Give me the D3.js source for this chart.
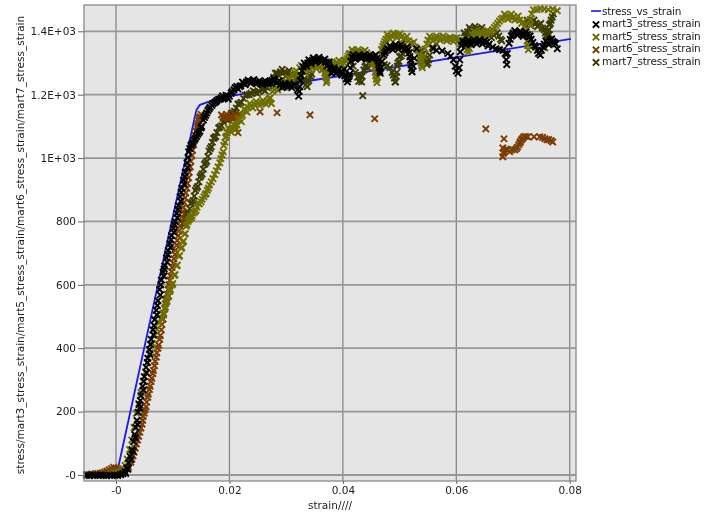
<!DOCTYPE html>
<html>
    <head>
        <meta charset="utf-8">
        <title></title>
        <style>
            body { margin: 0; background: #fff; }
            svg { display: block; filter: blur(0.45px); }
            text { font-family: "DejaVu Sans", sans-serif; font-size: 10.5px; fill: #222; }
            .axis path { display: none; }
            .axis line { stroke: #666; }
            .grid .v { stroke: #868686; stroke-width: 1.3; }
            .grid .h { stroke: #979797; stroke-width: 1.8; }
            .legend text { letter-spacing: -0.25px; }
            .cross { fill: none; stroke-width: 1.9; }
        </style>
    </head>
    <body>
        <svg width="704" height="513"></svg>

        <script src="https://d3js.org/d3.v7.min.js"></script>
        <script>
            var xTicks = [0, 0.02, 0.04, 0.06, 0.08];
            var xTickLabels = ["-0", "0.02", "0.04", "0.06", "0.08"];
            var yTicks = [0, 200, 400, 600, 800, 1000, 1200, 1400];
            var yTickLabels = ["-0", "200", "400", "600", "800", "1E+03", "1.2E+03", "1.4E+03"];

            var seriesNames = ["stress_vs_strain", "mart3_stress_strain", "mart5_stress_strain", "mart6_stress_strain", "mart7_stress_strain"];
            var seriesColors = ["#1a1aee", "#000000", "#6e6e00", "#7a3c00", "#3c3c00"];

            // [strain, stress]
            var stressVsStrain = [[0.0001,0],[0.0026,205],[0.0095,773],[0.0127,1032],[0.0139,1130],[0.0142,1152],[0.0148,1168],[0.0178,1187],[0.0342,1244],[0.0802,1376]];

            var mart3 = [[-0.0052,-1],[-0.0047,-2],[-0.0042,0],[-0.0037,-1],[-0.0032,-1],[-0.0027,0],[-0.0022,-1],[-0.0017,-2],[-0.0012,0],[-0.0007,-1],[-0.0002,-1],[0.0003,-1],[0.0008,1],[0.0012,4],[0.0016,10],[0.0019,22],[0.0022,38],[0.0025,58],[0.0028,80],[0.0031,105],[0.0033,128],[0.0035,150],[0.0037,172],[0.0039,198],[0.0041,222],[0.0044,250],[0.0047,280],[0.005,310],[0.0053,340],[0.0056,368],[0.0059,396],[0.0062,428],[0.0065,458],[0.0068,490],[0.0071,520],[0.0074,550],[0.0077,585],[0.008,615],[0.0083,640],[0.0086,660],[0.0089,685],[0.0092,708],[0.0095,730],[0.0098,755],[0.0101,778],[0.0104,800],[0.0107,825],[0.011,850],[0.0113,878],[0.0116,905],[0.0119,930],[0.0122,955],[0.0125,985],[0.0128,1020],[0.0132,1040],[0.0136,1050],[0.014,1062],[0.0144,1075],[0.0148,1085],[0.0151,1100],[0.0154,1120],[0.0158,1135],[0.0162,1150],[0.0166,1160],[0.0171,1172],[0.0176,1178],[0.0181,1185],[0.0186,1190],[0.0191,1188],[0.0196,1192],[0.02,1195],[0.0205,1210],[0.021,1222],[0.0215,1218],[0.022,1228],[0.0225,1235],[0.023,1240],[0.0235,1242],[0.024,1243],[0.0245,1238],[0.025,1240],[0.0255,1235],[0.026,1240],[0.0265,1238],[0.027,1240],[0.0275,1245],[0.028,1245],[0.0285,1240],[0.029,1232],[0.0295,1228],[0.03,1230],[0.0305,1235],[0.031,1222],[0.0315,1232],[0.032,1215],[0.0322,1195],[0.0323,1210],[0.0324,1225],[0.0325,1245],[0.0326,1260],[0.0328,1275],[0.033,1288],[0.0334,1295],[0.0338,1300],[0.0342,1305],[0.0346,1308],[0.035,1310],[0.0355,1312],[0.036,1310],[0.0365,1308],[0.037,1302],[0.0375,1296],[0.0378,1285],[0.0382,1275],[0.0386,1280],[0.039,1272],[0.0395,1270],[0.04,1272],[0.0403,1260],[0.0406,1250],[0.0409,1250],[0.0412,1265],[0.0413,1285],[0.0414,1305],[0.0416,1318],[0.042,1315],[0.0425,1318],[0.043,1320],[0.0435,1320],[0.044,1318],[0.0445,1318],[0.045,1320],[0.0455,1318],[0.046,1315],[0.0463,1295],[0.0465,1275],[0.0467,1285],[0.0469,1305],[0.0472,1325],[0.0476,1338],[0.048,1345],[0.0485,1348],[0.049,1352],[0.0495,1350],[0.05,1354],[0.0505,1350],[0.051,1345],[0.0515,1342],[0.0518,1320],[0.052,1295],[0.0522,1272],[0.0524,1290],[0.0526,1315],[0.053,1345],[0.0559,1345],[0.0565,1340],[0.0575,1338],[0.0585,1330],[0.059,1322],[0.0595,1310],[0.0598,1290],[0.06,1275],[0.0603,1268],[0.0605,1285],[0.0606,1310],[0.0607,1335],[0.0609,1355],[0.0613,1362],[0.0618,1365],[0.0623,1365],[0.0628,1366],[0.0633,1368],[0.0638,1368],[0.0643,1368],[0.0648,1367],[0.0653,1365],[0.0658,1360],[0.0664,1350],[0.067,1345],[0.0676,1342],[0.0682,1340],[0.0686,1330],[0.0688,1310],[0.0689,1295],[0.069,1330],[0.0693,1362],[0.0697,1385],[0.07,1395],[0.0705,1397],[0.071,1395],[0.0715,1390],[0.072,1392],[0.0725,1390],[0.073,1385],[0.0735,1365],[0.074,1350],[0.0745,1330],[0.075,1340],[0.0755,1360],[0.076,1365],[0.0765,1370],[0.077,1368],[0.0775,1360],[0.0778,1345],
                [0.0017,5],[0.0021,18],[0.0026,48],[0.003,75],[0.0034,118],[0.0038,160],[0.0042,212],[0.0043,235],[0.0048,268],[0.0049,296],[0.0054,322],[0.0055,355],[0.006,380],[0.0061,412],[0.0066,442],[0.0067,472],[0.0072,505],[0.0073,535],[0.0078,568],[0.0079,600],[0.0084,628],[0.0085,650],[0.009,672],[0.0091,696],[0.0096,718],[0.0097,742],[0.0102,766],[0.0103,790],[0.0108,812],[0.0109,838],[0.0114,864],[0.0115,892],[0.012,918],[0.0121,942],[0.0126,970],[0.0127,1002],[0.013,1030],[0.0134,1045],[0.0138,1056],[0.0142,1068],[0.0146,1080],[0.015,1095],[0.0156,1128],[0.016,1142],[0.0164,1155],[0.0169,1166],[0.0174,1175],[0.0178,1182],[0.0184,1186],[0.0188,1196],[0.0194,1198],[0.0198,1186],[0.0203,1205],[0.0208,1215],[0.0213,1226],[0.0218,1226],[0.0223,1240],[0.0228,1232],[0.0233,1246],[0.0238,1236],[0.0243,1248],[0.0248,1234],[0.0253,1244],[0.0258,1232],[0.0263,1244],[0.0268,1234],[0.0273,1236],[0.0278,1250],[0.0283,1236],[0.0288,1244],[0.0293,1222],[0.0298,1236],[0.0303,1226],[0.0308,1228],[0.0332,1300],[0.0336,1290],[0.034,1310],[0.0344,1298],[0.0348,1316],[0.0352,1302],[0.0358,1318],[0.0362,1304],[0.0368,1312],[0.0372,1290],[0.0376,1304],[0.038,1268],[0.0384,1285],[0.0388,1268],[0.0392,1280],[0.0398,1262],[0.0402,1280],[0.0405,1262],[0.0408,1240],[0.0411,1258],[0.0418,1326],[0.0422,1312],[0.0428,1326],[0.0432,1314],[0.0438,1326],[0.0442,1312],[0.0448,1326],[0.0452,1312],[0.0458,1326],[0.0462,1306],[0.0464,1285],[0.0466,1268],[0.0474,1332],[0.0478,1345],[0.0483,1354],[0.0488,1342],[0.0493,1358],[0.0498,1344],[0.0503,1358],[0.0508,1342],[0.0513,1350],[0.0517,1332],[0.0519,1308],[0.0521,1282],[0.0611,1370],[0.0616,1358],[0.0621,1372],[0.0626,1358],[0.0631,1374],[0.0636,1360],[0.0641,1374],[0.0646,1360],[0.0651,1372],[0.0656,1354],[0.0695,1375],[0.0699,1388],[0.0703,1402],[0.0708,1388],[0.0713,1400],[0.0718,1384],[0.0723,1398],[0.0728,1382],[0.0732,1375],[0.0738,1355],[0.0743,1340],[0.0748,1325],[0.0753,1350],[0.0758,1370],[0.0763,1358],[0.0768,1376],[0.0773,1365]];

            var mart5 = [[-0.003,0],[-0.002,1],[-0.001,3],[-0.0003,6],[0.0003,8],[0.0008,12],[0.0012,20],[0.0016,30],[0.002,50],[0.0024,80],[0.0028,110],[0.0032,150],[0.0036,195],[0.004,225],[0.0044,260],[0.0048,295],[0.0052,325],[0.0056,355],[0.006,385],[0.0064,415],[0.0068,440],[0.0072,460],[0.0076,480],[0.008,495],[0.0083,510],[0.0086,525],[0.0089,545],[0.0092,562],[0.0095,580],[0.0099,600],[0.0103,630],[0.0107,660],[0.0111,690],[0.0115,715],[0.0118,735],[0.0121,760],[0.0124,785],[0.0127,800],[0.013,808],[0.0134,818],[0.0139,830],[0.0143,845],[0.0147,855],[0.0152,870],[0.0157,885],[0.0161,898],[0.0165,915],[0.0171,935],[0.0177,960],[0.0183,985],[0.0187,1010],[0.019,1040],[0.0193,1065],[0.0196,1080],[0.02,1090],[0.0205,1095],[0.021,1100],[0.0213,1105],[0.0218,1120],[0.0223,1135],[0.0228,1150],[0.0233,1160],[0.0238,1165],[0.0244,1170],[0.025,1172],[0.0256,1175],[0.0262,1175],[0.0268,1178],[0.0272,1190],[0.0276,1210],[0.0282,1222],[0.0288,1228],[0.0294,1232],[0.03,1240],[0.0306,1247],[0.0312,1262],[0.0318,1275],[0.0324,1285],[0.033,1275],[0.0335,1282],[0.034,1286],[0.0345,1288],[0.035,1290],[0.0355,1290],[0.036,1288],[0.0365,1280],[0.0368,1268],[0.037,1255],[0.0372,1245],[0.0374,1270],[0.0378,1290],[0.0383,1298],[0.039,1300],[0.0396,1302],[0.0402,1300],[0.0406,1308],[0.0409,1322],[0.0413,1330],[0.0418,1335],[0.0424,1336],[0.043,1336],[0.0436,1335],[0.0442,1332],[0.0447,1320],[0.0451,1305],[0.0455,1285],[0.0458,1260],[0.046,1238],[0.0463,1270],[0.0465,1310],[0.0468,1342],[0.0472,1360],[0.0476,1375],[0.048,1382],[0.0486,1386],[0.0492,1388],[0.0498,1387],[0.0504,1384],[0.051,1378],[0.0516,1370],[0.0522,1360],[0.0528,1350],[0.0533,1340],[0.0536,1320],[0.0538,1300],[0.054,1285],[0.0545,1345],[0.055,1372],[0.0556,1378],[0.0562,1378],[0.0568,1380],[0.0574,1378],[0.058,1378],[0.0586,1376],[0.0592,1376],[0.0598,1376],[0.0604,1370],[0.061,1360],[0.0616,1350],[0.0621,1335],[0.0625,1360],[0.0628,1389],[0.0634,1392],[0.064,1392],[0.0646,1393],[0.0652,1395],[0.0658,1395],[0.0664,1405],[0.067,1418],[0.0676,1432],[0.0682,1442],[0.0688,1446],[0.0694,1446],[0.07,1444],[0.0706,1440],[0.0712,1435],[0.0718,1430],[0.0722,1400],[0.0725,1370],[0.0727,1342],[0.0729,1390],[0.073,1437],[0.0733,1455],[0.0736,1468],[0.0742,1468],[0.0748,1471],[0.0755,1470],[0.0762,1468],[0.077,1470],[0.0778,1465],[0.0756,1348],
                [0.0084,505],[0.0087,530],[0.009,548],[0.0093,565],[0.0096,585],[0.01,604],[0.0104,632],[0.0108,662],[0.0112,692],[0.0116,718],[0.0119,738],[0.0122,762],[0.0125,790],[0.0128,805],[0.0131,815],[0.0133,812],[0.0136,826],[0.0141,835],[0.0145,858],[0.015,862],[0.0155,878],[0.0159,888],[0.0163,905],[0.0168,925],[0.0174,948],[0.018,972],[0.0185,998],[0.0189,1020],[0.0192,1050],[0.0195,1070],[0.0198,1095],[0.0203,1082],[0.0208,1105],[0.0212,1092],[0.0216,1125],[0.0221,1115],[0.0226,1155],[0.0231,1145],[0.0236,1172],[0.0241,1158],[0.0247,1178],[0.0253,1166],[0.0259,1182],[0.0265,1170],[0.027,1186],[0.0274,1172],[0.0279,1216],[0.0285,1215],[0.0291,1238],[0.0297,1224],[0.0303,1252],[0.0309,1238],[0.0315,1270],[0.0321,1262],[0.0327,1292],[0.0333,1268],[0.0338,1292],[0.0343,1278],[0.0348,1296],[0.0353,1282],[0.0358,1296],[0.0363,1278],[0.0367,1285],[0.0369,1260],[0.0371,1238],[0.0376,1284],[0.0381,1304],[0.0387,1292],[0.0393,1308],[0.0399,1294],[0.0404,1308],[0.0408,1314],[0.0411,1328],[0.0416,1342],[0.0421,1328],[0.0427,1342],[0.0433,1328],[0.0439,1340],[0.0445,1326],[0.0449,1312],[0.0453,1296],[0.0457,1270],[0.0459,1248],[0.0461,1255],[0.0464,1290],[0.0467,1325],[0.047,1352],[0.0474,1368],[0.0478,1390],[0.0483,1376],[0.0489,1394],[0.0495,1380],[0.0501,1392],[0.0507,1375],[0.0513,1384],[0.0519,1362],[0.0525,1366],[0.0531,1342],[0.0535,1330],[0.0537,1310],[0.0539,1292],[0.0543,1320],[0.0548,1360],[0.0553,1384],[0.0559,1370],[0.0565,1385],[0.0571,1372],[0.0577,1385],[0.0583,1370],[0.0589,1382],[0.0595,1368],[0.0601,1380],[0.0607,1362],[0.0613,1365],[0.0619,1342],[0.0623,1345],[0.0631,1400],[0.0637,1384],[0.0643,1400],[0.0649,1386],[0.0655,1402],[0.0661,1400],[0.0667,1412],[0.0673,1425],[0.0679,1438],[0.0685,1454],[0.0691,1438],[0.0697,1454],[0.0703,1436],[0.0709,1448],[0.0715,1425],[0.072,1415],[0.0724,1385],[0.0726,1355],[0.0728,1365],[0.0731,1420]];

            var mart6 = [[-0.0052,2],[-0.0048,1],[-0.0044,3],[-0.004,2],[-0.0036,4],[-0.0032,4],[-0.0028,5],[-0.0024,7],[-0.002,9],[-0.0016,12],[-0.0012,16],[-0.0008,20],[-0.0004,24],[0,22],[0.0005,18],[0.001,12],[0.0015,15],[0.002,20],[0.0026,40],[0.003,60],[0.0034,85],[0.0038,110],[0.0042,135],[0.0046,160],[0.0048,185],[0.0051,205],[0.0054,230],[0.0057,255],[0.006,280],[0.0063,305],[0.0066,330],[0.0069,358],[0.0072,385],[0.0075,410],[0.0078,440],[0.0081,475],[0.0084,510],[0.0087,540],[0.009,570],[0.0093,600],[0.0096,628],[0.0099,655],[0.0102,682],[0.0105,710],[0.0108,740],[0.0111,770],[0.0114,800],[0.0117,830],[0.012,860],[0.0123,890],[0.0126,920],[0.0129,955],[0.0132,990],[0.0135,1025],[0.0138,1060],[0.0141,1085],[0.0143,1100],[0.0146,1118],[0.0148,1130],[0.015,1138],[0.0186,1136],[0.0189,1130],[0.0193,1132],[0.0197,1125],[0.02,1128],[0.0204,1130],[0.0208,1128],[0.0212,1135],[0.0215,1080],[0.0218,1140],[0.0254,1146],[0.0284,1143],[0.0342,1136],[0.0456,1124],[0.0652,1092],[0.0684,1061],[0.0682,1032],[0.0682,1004],[0.0685,1020],[0.0691,1026],[0.0698,1026],[0.0703,1026],[0.0708,1035],[0.0712,1048],[0.0715,1058],[0.0719,1067],[0.0726,1067],[0.0737,1067],[0.0747,1067],[0.0756,1061],[0.0763,1058],[0.077,1051],
                [0.0022,25],[0.0028,50],[0.0032,72],[0.0036,98],[0.004,122],[0.0044,148],[0.0047,172],[0.005,195],[0.0053,215],[0.0056,245],[0.0059,270],[0.0062,295],[0.0065,320],[0.0068,345],[0.0071,372],[0.0074,400],[0.0077,428],[0.008,458],[0.0083,492],[0.0086,525],[0.0089,556],[0.0092,585],[0.0095,615],[0.0098,642],[0.0101,668],[0.0104,696],[0.0107,725],[0.011,755],[0.0113,785],[0.0116,815],[0.0119,845],[0.0122,875],[0.0125,905],[0.0128,938],[0.0131,972],[0.0134,1008],[0.0137,1042],[0.014,1072],[0.0144,1108],[0.0147,1125],[0.0683,1015],[0.0688,1028],[0.0694,1020],[0.0706,1030],[0.071,1042],[0.0713,1052],[0.0717,1062],[0.0722,1068],[0.0752,1065],[0.076,1058],[0.0767,1055],[0.0189,1125],[0.0195,1138],[0.0206,1122],[0.021,1136],[0.0214,1125]];

            var mart7 = [[0.0118,795],[0.0122,808],[0.0126,825],[0.013,840],[0.0134,860],[0.0138,880],[0.0142,905],[0.0146,925],[0.015,945],[0.0154,965],[0.0158,985],[0.0162,1005],[0.0166,1030],[0.017,1050],[0.0174,1065],[0.0178,1080],[0.0183,1098],[0.0189,1115],[0.0195,1122],[0.02,1130],[0.0206,1143],[0.0212,1158],[0.0218,1172],[0.0225,1188],[0.0231,1200],[0.0238,1205],[0.0245,1208],[0.0252,1210],[0.0259,1216],[0.0266,1222],[0.0272,1240],[0.0278,1255],[0.0284,1268],[0.029,1272],[0.0296,1270],[0.0302,1268],[0.0308,1265],[0.0312,1260],[0.0318,1255],[0.0325,1250],[0.033,1240],[0.0335,1232],[0.0337,1225],[0.034,1245],[0.0345,1265],[0.0418,1290],[0.0422,1270],[0.0426,1255],[0.043,1245],[0.0434,1258],[0.0437,1278],[0.0441,1292],[0.0446,1298],[0.0451,1296],[0.0456,1300],[0.0435,1197],[0.0473,1295],[0.0478,1292],[0.0483,1285],[0.0487,1270],[0.0491,1252],[0.0493,1240],[0.0495,1270],[0.0497,1300],[0.05,1320],[0.0505,1330],[0.051,1338],[0.0538,1340],[0.0541,1328],[0.0545,1310],[0.055,1300],[0.0553,1325],[0.0558,1350],[0.0565,1360],[0.0612,1370],[0.0616,1385],[0.062,1398],[0.0625,1405],[0.063,1405],[0.0636,1408],[0.0642,1405],[0.0648,1398],[0.0665,1390],[0.0675,1385],[0.068,1370],[0.0722,1420],[0.0728,1425],[0.0734,1428],[0.074,1425],[0.0746,1420],[0.0752,1410],[0.0757,1395],[0.076,1385],[0.0763,1405],[0.0766,1425],[0.0769,1445],[0.0771,1455],
                [0.012,790],[0.0124,822],[0.0128,826],[0.0132,856],[0.0136,866],[0.014,898],[0.0144,910],[0.0148,940],[0.0152,950],[0.0156,980],[0.016,990],[0.0164,1022],[0.0168,1036],[0.0172,1062],[0.0176,1068],[0.0181,1095],[0.0186,1102],[0.0192,1125],[0.0198,1120],[0.0203,1140],[0.0209,1148],[0.0215,1170],[0.0221,1176],[0.0228,1198],[0.0235,1200],[0.0242,1212],[0.0249,1204],[0.0256,1218],[0.0263,1212],[0.0269,1236],[0.0275,1242],[0.0281,1268],[0.0287,1260],[0.0293,1280],[0.0299,1258],[0.0305,1276],[0.0315,1240],[0.0322,1258],[0.0332,1250],[0.0338,1240],[0.0343,1258],[0.0614,1395],[0.0618,1380],[0.0623,1412],[0.0628,1395],[0.0633,1415],[0.0639,1398],[0.0645,1412],[0.0651,1395],[0.0658,1395],[0.0662,1380],[0.0672,1395],[0.0678,1375],[0.0725,1435],[0.0731,1418],[0.0737,1435],[0.0743,1415],[0.0749,1425],[0.0755,1405],[0.0758,1385],[0.0761,1400],[0.0764,1420],[0.0767,1435],[0.0764,1390],[0.0431,1260],[0.0428,1242],[0.0433,1240],[0.0439,1288],[0.0444,1285],[0.0449,1305],[0.0489,1262],[0.0492,1240],[0.0494,1258],[0.0496,1290],[0.0499,1305],[0.0503,1322],[0.0543,1318],[0.0548,1295],[0.0551,1310]];

            var svg = d3.select("svg"),
                left = 84, right = 576, top_ = 5, bottom = 481;

            var x = d3.scaleLinear().domain([-0.00564, 0.0811]).range([left, right]);
            var y = d3.scaleLinear().domain([-19, 1483]).range([bottom, top_]);

            svg.append("rect")
                .attr("x", left).attr("y", top_)
                .attr("width", right - left).attr("height", bottom - top_)
                .attr("fill", "#e5e5e5");

            // grid
            var grid = svg.append("g").attr("class", "grid");
            grid.selectAll(".v").data(xTicks).enter().append("line")
                .attr("class", "v")
                .attr("x1", x).attr("x2", x).attr("y1", top_).attr("y2", bottom);
            grid.selectAll(".h").data(yTicks).enter().append("line")
                .attr("class", "h")
                .attr("y1", y).attr("y2", y).attr("x1", left).attr("x2", right);

            svg.append("path")
                .datum(stressVsStrain)
                .attr("fill", "none")
                .attr("stroke", seriesColors[0])
                .attr("stroke-width", 1.8)
                .attr("d", d3.line().x(function(d) { return x(d[0]); }).y(function(d) { return y(d[1]); }));

            var cross = d3.symbol().type(d3.symbolX).size(28);

            function drawCrosses(points, color) {
                svg.append("g").selectAll("path")
                    .data(points)
                    .enter()
                    .append("path")
                    .attr("class", "cross")
                    .attr("d", cross)
                    .attr("stroke", color)
                    .attr("transform", function(d) { return "translate(" + x(d[0]) + "," + y(d[1]) + ")"; });
            }

            // later series sit under the earlier ones
            drawCrosses(mart7, seriesColors[4]);
            drawCrosses(mart6, seriesColors[3]);
            drawCrosses(mart5, seriesColors[2]);
            drawCrosses(mart3, seriesColors[1]);

            svg.append("rect")
                .attr("x", left).attr("y", top_)
                .attr("width", right - left).attr("height", bottom - top_)
                .attr("fill", "none")
                .attr("stroke", "#8a8a8a")
                .attr("stroke-width", 1.3);

            // axes
            var xAxis = d3.axisBottom(x)
                .tickValues(xTicks)
                .tickSize(3)
                .tickPadding(3)
                .tickFormat(function(d, i) { return xTickLabels[i]; });
            svg.append("g").attr("class", "axis")
                .attr("transform", "translate(0," + bottom + ")")
                .call(xAxis);

            var yAxis = d3.axisLeft(y)
                .tickValues(yTicks)
                .tickSize(6)
                .tickPadding(2)
                .tickFormat(function(d, i) { return yTickLabels[i]; });
            svg.append("g").attr("class", "axis")
                .attr("transform", "translate(" + left + ",0)")
                .call(yAxis);
            svg.selectAll(".axis text").style("font-size", "10.5px").style("font-family", "'DejaVu Sans', sans-serif");

            svg.append("text")
                .attr("x", 330).attr("y", 509)
                .attr("text-anchor", "middle")
                .text("strain////");

            svg.append("text")
                .attr("transform", "translate(24,245) rotate(-90)")
                .attr("text-anchor", "middle")
                .text(seriesNames[0].slice(0, 6) + "/" + seriesNames.slice(1).join("/"));

            // legend
            var legend = svg.selectAll(".legend")
                .data(seriesNames)
                .enter()
                .append("g")
                .attr("class", "legend")
                .attr("transform", function(d, i) { return "translate(0," + (11 + i * 12.6) + ")"; });

            legend.append("text")
                .attr("x", 602)
                .attr("dy", ".35em")
                .text(function(d) { return d; });

            legend.filter(function(d, i) { return i === 0; })
                .append("line")
                .attr("x1", 591).attr("x2", 601)
                .attr("stroke", seriesColors[0])
                .attr("stroke-width", 1.6);

            legend.filter(function(d, i) { return i > 0; })
                .append("path")
                .attr("class", "cross")
                .attr("d", cross)
                .attr("transform", "translate(596,1)")
                .attr("stroke", function(d) { return seriesColors[seriesNames.indexOf(d)]; });
        </script>
    </body>
</html>
